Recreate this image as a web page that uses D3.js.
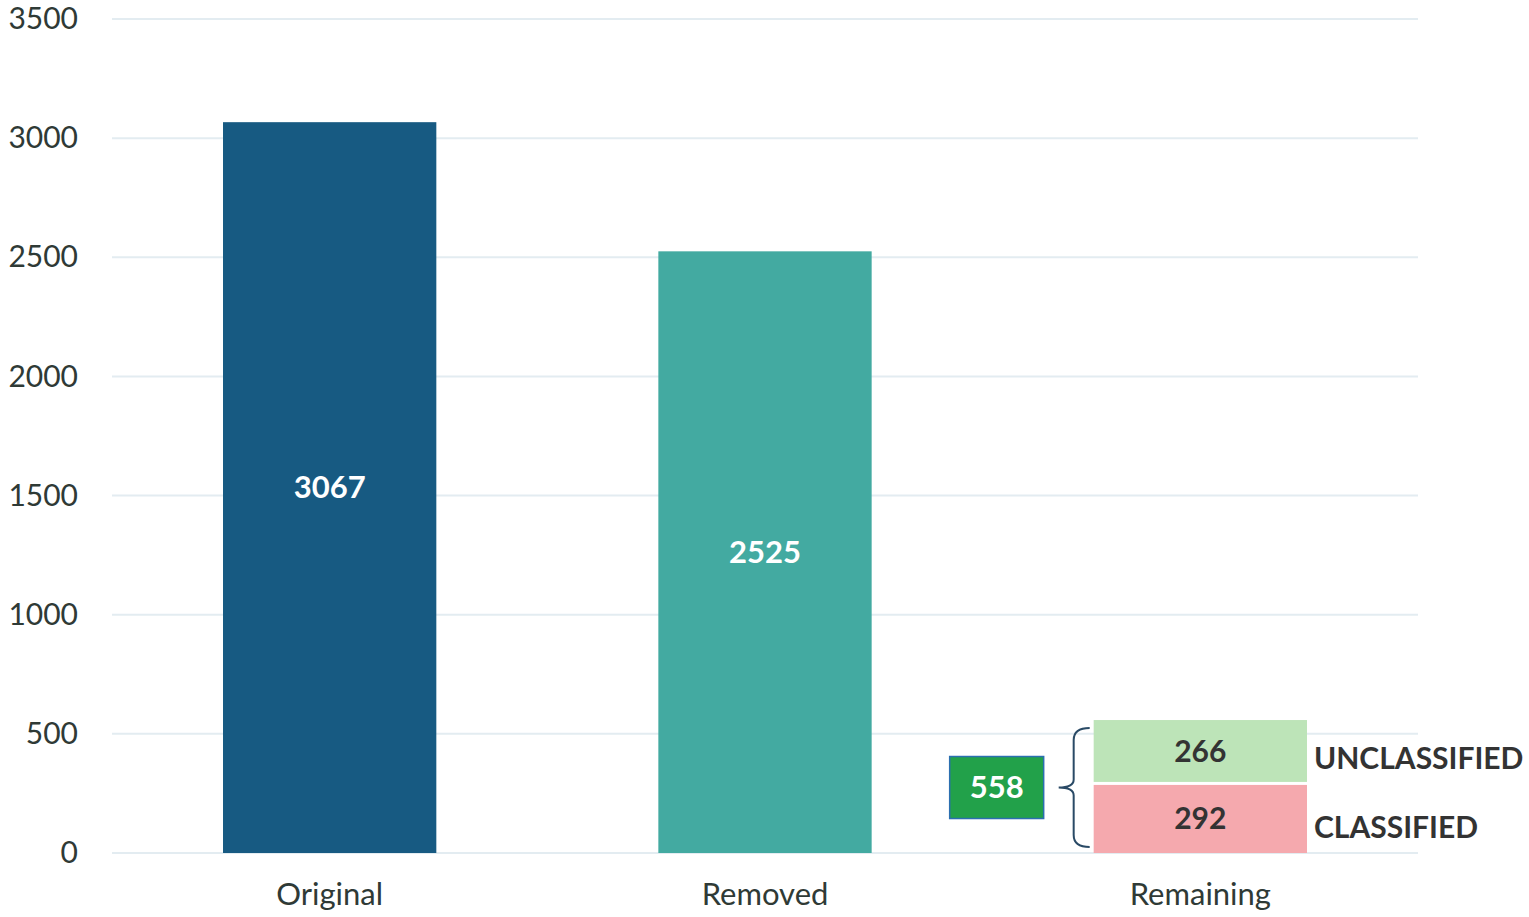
<!DOCTYPE html>
<html><head><meta charset="utf-8">
<script src="https://cdn.jsdelivr.net/npm/d3@7"></script>
<style>body{margin:0;background:#fff;}svg{display:block;font-family:Lato,"Open Sans",sans-serif;}</style>
</head><body>
<svg id="c" width="1529" height="917"></svg>
<script>
const categories = ["Original", "Removed", "Remaining"];
const totals = [3067, 2525, null];
const remainingParts = [
  {name: "CLASSIFIED", value: 292},
  {name: "UNCLASSIFIED", value: 266}
];
const remainingTotal = 558;
const yTicks = [0, 500, 1000, 1500, 2000, 2500, 3000, 3500];
const barColors = ["#175a82", "#43aaa1"];
const partColors = {CLASSIFIED: "#f5a9ae", UNCLASSIFIED: "#bde4b8"};

(function () {
const svg = d3.select("#c");
const pL = 112, pR = 1418, pT = 19, pB = 853;
const x = d3.scaleBand().domain(categories).range([pL, pR]).paddingInner(0.51).paddingOuter(0.255);
const y = d3.scaleLinear().domain([0, 3500]).range([pB, pT]);

// grid
svg.append("g").selectAll("line").data(yTicks).join("line")
  .attr("x1", pL).attr("x2", pR)
  .attr("y1", d => y(d)).attr("y2", d => y(d))
  .attr("stroke", "#e3ecf1").attr("stroke-width", 2);

// y axis
const ya = svg.append("g").attr("transform", `translate(${pL},0)`)
  .call(d3.axisLeft(y).tickValues(yTicks).tickFormat(d3.format("d")).tickSize(0).tickPadding(34));
ya.select(".domain").remove();
ya.selectAll("text").attr("font-size", 30).attr("fill", "#2f3a36").attr("font-family", "Lato,'Open Sans',sans-serif");

// x axis
const xa = svg.append("g").attr("transform", `translate(0,${pB})`)
  .call(d3.axisBottom(x).tickSize(0).tickPadding(30));
xa.select(".domain").remove();
xa.selectAll("text").attr("font-size", 31).attr("fill", "#2f3a36").attr("font-family", "Lato,'Open Sans',sans-serif");

// main bars
const mainData = categories.map((c, i) => ({c, v: totals[i], col: barColors[i]})).filter(d => d.v != null);
svg.append("g").selectAll("rect").data(mainData).join("rect")
  .attr("x", d => x(d.c)).attr("width", x.bandwidth())
  .attr("y", d => y(d.v)).attr("height", d => y(0) - y(d.v))
  .attr("fill", d => d.col);
svg.append("g").selectAll("text").data(mainData).join("text")
  .attr("x", d => x(d.c) + x.bandwidth() / 2)
  .attr("y", d => (y(d.v) + y(0)) / 2)
  .attr("dy", "0.35em").attr("text-anchor", "middle")
  .attr("font-size", 31).attr("font-weight", "bold").attr("fill", "#fff")
  .text(d => d.v);

// stacked remaining
let acc = 0;
const stacked = remainingParts.map(p => { const s = {...p, y0: acc, y1: acc + p.value}; acc += p.value; return s; });
const rx = x("Remaining"), bw = x.bandwidth();
const sg = svg.append("g");
sg.selectAll("rect").data(stacked).join("rect")
  .attr("x", rx).attr("width", bw)
  .attr("y", d => y(d.y1) + (d.y0 > 0 ? 0 : 1.5))
  .attr("height", d => y(d.y0) - y(d.y1) - 1.5)
  .attr("fill", d => partColors[d.name]);
sg.selectAll("text.v").data(stacked).join("text").attr("class", "v")
  .attr("x", rx + bw / 2).attr("y", d => (y(d.y0) + y(d.y1)) / 2)
  .attr("dy", "0.35em").attr("text-anchor", "middle")
  .attr("font-size", 30).attr("font-weight", "bold").attr("fill", "#333")
  .text(d => d.value);
sg.selectAll("text.n").data(stacked).join("text").attr("class", "n")
  .attr("x", rx + bw + 7).attr("y", d => (y(d.y0) + y(d.y1)) / 2 + (d.y0 > 0 ? 7 : 9))
  .attr("dy", "0.35em").attr("text-anchor", "start")
  .attr("font-size", 30).attr("font-weight", "bold").attr("fill", "#333")
  .text(d => d.name);

// total box and brace
const yTop = y(remainingTotal) + 8, yBot = y(0) - 6, yMid = (yTop + yBot) / 2;
const bx = rx - 144, bwid = 94, bh = 62;
svg.append("rect").attr("x", bx).attr("y", yMid - bh / 2).attr("width", bwid).attr("height", bh)
  .attr("fill", "#22a14a").attr("stroke", "#2b6fb0").attr("stroke-width", 1.5);
svg.append("text").attr("x", bx + bwid / 2).attr("y", yMid).attr("dy", "0.35em")
  .attr("text-anchor", "middle").attr("font-size", 31).attr("font-weight", "bold").attr("fill", "#fff")
  .text(remainingTotal);
const bxv = rx - 20, bxr = rx - 4, bxl = rx - 35;
const brace = `M${bxr},${yTop} Q${bxv},${yTop} ${bxv},${yTop + 12} L${bxv},${yMid - 8} Q${bxv},${yMid} ${bxl},${yMid} Q${bxv},${yMid} ${bxv},${yMid + 8} L${bxv},${yBot - 12} Q${bxv},${yBot} ${bxr},${yBot}`;
svg.append("path").attr("d", brace).attr("fill", "none").attr("stroke", "#2a4a66").attr("stroke-width", 2);
})();
</script>
</body></html>
